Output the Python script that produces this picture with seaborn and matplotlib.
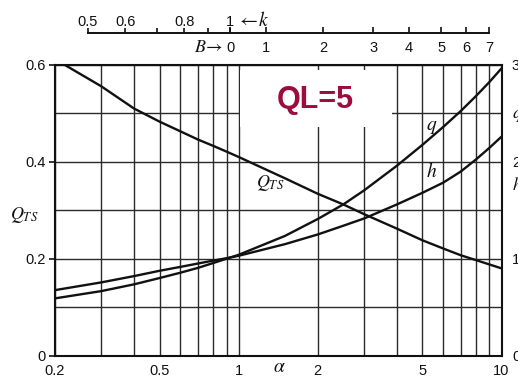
import matplotlib
matplotlib.use("Agg")
import matplotlib.pyplot as plt
from matplotlib.patches import Rectangle
from matplotlib.ticker import NullLocator, FixedLocator
import numpy as np
import pandas as pd
import seaborn as sns

# ---- data ---------------------------------------------------------------
alpha = [0.2, 0.3, 0.4, 0.5, 0.6, 0.7, 0.8, 0.9, 1.0, 1.5, 2.0, 2.5, 3.0,
         4.0, 5.0, 6.0, 7.0, 8.0, 9.0, 10.0]
q_ts = [0.612, 0.556, 0.510, 0.483, 0.463, 0.446, 0.433, 0.421, 0.410, 0.366,
        0.334, 0.312, 0.292, 0.262, 0.238, 0.221, 0.207, 0.197, 0.188, 0.180]
q_curve = [0.118, 0.133, 0.147, 0.160, 0.171, 0.181, 0.191, 0.200, 0.208, 0.247,
           0.282, 0.312, 0.341, 0.392, 0.435, 0.472, 0.505, 0.536, 0.565, 0.593]
h_curve = [0.135, 0.151, 0.164, 0.175, 0.183, 0.190, 0.196, 0.201, 0.206, 0.230,
           0.250, 0.268, 0.283, 0.312, 0.336, 0.357, 0.380, 0.405, 0.429, 0.452]

x_major = [0.2, 0.5, 1, 2, 5, 10]
x_major_labels = ["0.2", "0.5", "1", "2", "5", "10"]
x_minor = [0.3, 0.4, 0.6, 0.7, 0.8, 0.9, 3, 4, 6, 7, 8, 9]
y_major = [0, 0.2, 0.4, 0.6]
y_major_labels = ["0", "0.2", "0.4", "0.6"]
y_minor = [0.1, 0.3, 0.5]
right_ticks = [0, 1, 2, 3]

k_ticks = [0.5, 0.6, 0.7, 0.8, 0.9, 1.0]
k_labels = ["0.5", "0.6", "", "0.8", "", "1"]
b_values = [0, 1, 2, 3, 4, 5, 6, 7]
b_ticks_k = [1.0, 1.192, 1.575, 2.010, 2.396, 2.801, 3.164, 3.54]

# ---- style ----------------------------------------------------------------
sns.set_theme(style="white")
plt.rcParams["font.family"] = ["Liberation Sans", "DejaVu Sans"]
plt.rcParams["mathtext.fontset"] = "stix"

W, H = 518, 377
fig = plt.figure(figsize=(W / 100, H / 100), dpi=100)
fig.patch.set_facecolor("white")


def fx(x):
    return x / W


def fy(y):
    return 1 - y / H


INK = "#111111"
GRID = "#2a2a2a"

# ---- main axes ----------------------------------------------------------
L, R, T, B = 55, 501.5, 65, 355.5
ax = fig.add_axes([fx(L), fy(B), (R - L) / W, (B - T) / H])
ax.set_facecolor("white")

df = pd.DataFrame({"alpha": alpha, "Q_TS": q_ts, "q": q_curve, "h": h_curve})
long = df.melt(id_vars="alpha", var_name="curve", value_name="value")
sns.lineplot(data=long, x="alpha", y="value", units="curve", estimator=None,
             color=INK, linewidth=1.7, ax=ax, zorder=3, legend=False)

ax.set_xscale("log")
ax.set_xlim(0.2, 10)
ax.set_ylim(0, 0.6)
ax.xaxis.set_major_locator(FixedLocator(x_major))
ax.xaxis.set_minor_locator(FixedLocator(x_minor))
ax.set_xticklabels(x_major_labels)
ax.xaxis.set_minor_formatter(plt.NullFormatter())
ax.set_yticks(y_major)
ax.set_yticklabels(y_major_labels)
ax.set_yticks(y_minor, minor=True)
ax.set_axisbelow(True)
ax.grid(which="both", color=GRID, linewidth=1.0)
ax.tick_params(axis="x", which="both", length=0, pad=6, labelsize=10.5,
               colors=INK)
ax.tick_params(axis="y", which="major", direction="out", length=4, width=1.2,
               pad=3, labelsize=10.5, colors=INK)
ax.tick_params(axis="y", which="minor", length=0)
ax.set_xlabel("")
ax.set_ylabel("")
for s in ax.spines.values():
    s.set_visible(True)
    s.set_color(INK)
    s.set_linewidth(1.5)

# blank panel behind the title text
ax.add_patch(Rectangle(((240 - L) / (R - L), (B - 127) / (B - T)),
                       152 / (R - L), 57 / (B - T), transform=ax.transAxes,
                       facecolor="white", edgecolor="none", zorder=1.5))
ax.text((315 - L) / (R - L), (B - 100) / (B - T), "QL=5",
        transform=ax.transAxes, ha="center", va="center", fontsize=22,
        fontweight="bold", color="#9C0C3E", zorder=4,
        family=["Liberation Sans", "DejaVu Sans"])

# curve labels
ax.text(1.32, 0.356, r"$Q_{TS}$", ha="center", va="center", fontsize=13,
        color=INK, zorder=4)
ax.text(5.41, 0.470, r"$q$", ha="center", va="center", fontsize=14,
        color=INK, zorder=4)
ax.text(5.41, 0.381, r"$h$", ha="center", va="center", fontsize=14,
        color=INK, zorder=4)

# right-hand scale
ax2 = ax.twinx()
ax2.set_ylim(0, 3)
ax2.set_yticks(right_ticks)
ax2.set_yticklabels([str(v) for v in right_ticks])
ax2.tick_params(axis="y", length=0, pad=7.5, labelsize=10.5, colors=INK)
ax2.grid(False)
for s in ax2.spines.values():
    s.set_visible(False)
fig.text(fx(512), fy(115), r"$q$", ha="left", va="center", fontsize=13,
         color=INK)
fig.text(fx(512), fy(185), r"$h$", ha="left", va="center", fontsize=13,
         color=INK)

# axis titles
fig.text(fx(24), fy(215), r"$Q_{TS}$", ha="center", va="center", fontsize=13,
         color=INK)
fig.text(fx(279), fy(367), r"$\alpha$", ha="center", va="center",
         fontsize=14, color=INK)

# ---- top nomogram scale (k above, B below) ------------------------------
ax_k = fig.add_axes([fx(88), fy(33), (489 - 88) / W, 1e-4])
ax_k.set_xscale("log")
ax_k.set_xlim(0.5, 3.54)
ax_k.set_yticks([])
ax_k.set_facecolor("none")
ax_b = ax_k.twiny()
ax_b.set_xscale("log")
ax_b.set_xlim(0.5, 3.54)
ax_b.set_facecolor("none")

for name, s in ax_k.spines.items():
    s.set_visible(name == "bottom")
ax_k.spines["bottom"].set_linewidth(1.4)
ax_k.spines["bottom"].set_color(INK)
for s in ax_b.spines.values():
    s.set_visible(False)

# k scale: ticks and labels above the line
ax_k.xaxis.set_ticks_position("top")
ax_k.xaxis.set_major_locator(FixedLocator(k_ticks))
ax_k.xaxis.set_minor_locator(NullLocator())
ax_k.set_xticklabels(k_labels)
ax_k.tick_params(axis="x", which="major", top=True, labeltop=True,
                 bottom=False, labelbottom=False, direction="out", length=3.5,
                 width=1.2, pad=-0.5, labelsize=10.5, colors=INK)

# B scale: labels below the line
ax_b.xaxis.set_ticks_position("bottom")
ax_b.xaxis.set_major_locator(FixedLocator(b_ticks_k))
ax_b.xaxis.set_minor_locator(NullLocator())
ax_b.set_xticklabels([str(v) for v in b_values])
ax_b.tick_params(axis="x", which="major", bottom=True, labelbottom=True,
                 top=False, labeltop=False, direction="in", length=4,
                 width=1.2, pad=6, labelsize=10.5, colors=INK)

fig.text(fx(237), fy(21), r"$\leftarrow\! k$", ha="left", va="center",
         fontsize=14, color=INK)
fig.text(fx(223), fy(47), r"$B\!\rightarrow$", ha="right", va="center",
         fontsize=13, color=INK)

fig.savefig("out.png", dpi=100, facecolor="white")
